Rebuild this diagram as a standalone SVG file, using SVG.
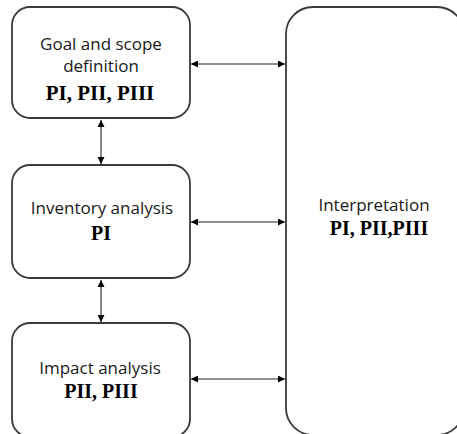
<svg xmlns="http://www.w3.org/2000/svg" width="457" height="434" viewBox="0 0 457 434">
<style>
.box{fill:#fff;stroke:#3a3a3a;stroke-width:1.8}
.lbl{font-family:"Open Sans","Liberation Sans",sans-serif;font-size:17px;fill:#1a1a1a;text-anchor:middle}
.ph{font-family:"Liberation Serif","Times New Roman",serif;font-weight:bold;font-size:20px;fill:#000;text-anchor:middle}
.con{stroke:#222;stroke-width:1.1;fill:none;marker-start:url(#ah);marker-end:url(#ah)}
</style>
<defs>
<marker id="ah" viewBox="0 0 10 10" refX="10" refY="5" markerWidth="8" markerHeight="7" markerUnits="userSpaceOnUse" orient="auto-start-reverse">
<path d="M0,0 L10,5 L0,10 Z" fill="#000"/>
</marker>
</defs>
<rect width="457" height="434" fill="#fff"/>
<g id="goal">
<rect class="box" x="12" y="7" width="178" height="111" rx="18"/>
<text class="lbl" x="101" y="50">Goal and scope</text>
<text class="lbl" x="101" y="72">definition</text>
<text class="ph" x="100" y="100" style="font-size:21px">PI, PII, PIII</text>
</g>
<g id="inventory">
<rect class="box" x="12" y="165" width="178" height="113" rx="18"/>
<text class="lbl" x="102" y="214">Inventory analysis</text>
<text class="ph" x="101" y="240">PI</text>
</g>
<g id="impact">
<rect class="box" x="12" y="323" width="178" height="114" rx="18"/>
<text class="lbl" x="100" y="374">Impact analysis</text>
<text class="ph" x="101" y="398">PII, PIII</text>
</g>
<g id="interpretation">
<rect class="box" x="286" y="7" width="178" height="428" rx="27"/>
<text class="lbl" x="374" y="211">Interpretation</text>
<text class="ph" x="379" y="235">PI, PII,PIII</text>
</g>
<g id="connectors">
<line class="con" x1="191" y1="64" x2="285" y2="64"/>
<line class="con" x1="191" y1="222" x2="285" y2="222"/>
<line class="con" x1="191" y1="379" x2="285" y2="379"/>
<line class="con" x1="101" y1="120" x2="101" y2="164"/>
<line class="con" x1="101" y1="280" x2="101" y2="322"/>
</g>
</svg>
